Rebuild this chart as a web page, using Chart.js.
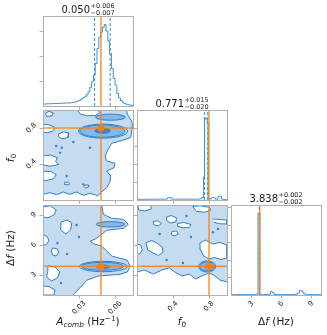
<!DOCTYPE html>
<html>
<head>
<meta charset="utf-8">
<script src="https://cdn.jsdelivr.net/npm/chart.js@4.4.1/dist/chart.umd.min.js"></script>
<style>
  html, body { margin: 0; padding: 0; background: #fff; }
  #wrap { position: relative; width: 327px; height: 335px; }
  #wrap canvas { position: absolute; left: 0; top: 0; }
</style>
</head>
<body>
<div id="wrap">
  <canvas id="hA" width="327" height="335"></canvas>
  <canvas id="hF" width="327" height="335"></canvas>
  <canvas id="hD" width="327" height="335"></canvas>
  <canvas id="cAF" width="327" height="335"></canvas>
  <canvas id="cAD" width="327" height="335"></canvas>
  <canvas id="cFD" width="327" height="335"></canvas>
</div>
<script>
// ---- parameter ranges / ticks
const aRange = [0, 0.075];
const fRange = [0, 1];
const dRange = [1, 10];
const aTicks = [0.03, 0.06];
const fTicks = [0.4, 0.8];
const dTicks = [3, 6, 9];

// ---- summary numbers (titles) and injected values
const medians = [0.050, 0.771, 3.838];
const errUp = [0.006, 0.015, 0.002];
const errDown = [0.007, 0.020, 0.002];
const truths = [0.0483, 0.8, 3.87];

// ---- 1D histograms (bin start, bin width, heights)
const aHistStart = 0, aHistStep = 0.0015;
const aHist = [0.08,0.08,0.09,0.09,0.09,0.10,0.10,0.10,0.10,0.11,
  0.11,0.11,0.12,0.12,0.12,0.13,0.14,0.15,0.17,0.20,
  0.23,0.28,0.33,0.37,0.45,0.57,0.75,0.97,1.24,1.70,
  2.30,2.75,2.95,3.15,3.26,3.00,2.60,2.10,1.50,1.10,
  0.84,0.50,0.33,0.22,0.15,0.10,0.07,0.05,0.04,0.03];
const fHistStart = 0, fHistStep = 0.01;
const fHist = [0.03,0.03,0.04,0.03,0.04,0.04,0.03,0.04,0.04,0.05,
  0.04,0.04,0.05,0.04,0.04,0.05,0.04,0.05,0.05,0.04,
  0.05,0.04,0.05,0.05,0.04,0.05,0.05,0.04,0.05,0.05,
  0.05,0.04,0.05,0.06,0.12,0.14,0.13,0.14,0.06,0.05,
  0.05,0.04,0.05,0.05,0.04,0.05,0.05,0.04,0.05,0.05,
  0.05,0.05,0.04,0.05,0.05,0.04,0.05,0.05,0.04,0.05,
  0.05,0.04,0.05,0.05,0.04,0.05,0.05,0.04,0.05,0.06,
  0.06,0.08,0.15,0.12,1.30,4.50,4.55,4.50,4.30,0.10,
  0.06,0.05,0.07,0.14,0.15,0.13,0.12,0.05,0.05,0.04,
  0.20,0.22,0.20,0.18,0.05,0.04,0.03,0.03,0.03,0.02];
const dHistStart = 1, dHistStep = 0.18;
const dHist = [0.02,0.02,0.02,0.02,0.03,0.02,0.02,0.03,0.02,0.02,
  0.02,0.03,0.02,0.03,0.05,4.70,0.04,0.02,0.02,0.03,
  0.03,0.04,0.20,0.12,0.03,0.02,0.03,0.02,0.02,0.03,
  0.02,0.03,0.02,0.03,0.04,0.03,0.05,0.12,0.25,0.23,
  0.10,0.04,0.03,0.02,0.03,0.02,0.02,0.02,0.02,0.02];
const aHistTicks = [1, 2, 3], fHistTicks = [1, 2, 3, 4], dHistTicks = [1, 2, 3, 4, 5];
const histTop = [3.6, 5, 5.17];

// ---- 2D panels: outer contour path, corners closing it, white holes, islands, ellipses [cx, cy, rx, ry, level]
const afEdge = [[0.0697,1.0],[0.0703,0.952],[0.0739,0.878],[0.0745,0.822],[0.0731,0.693],[0.0642,0.656],
  [0.0572,0.63],[0.0544,0.563],[0.0517,0.489],[0.0531,0.433],[0.06,0.407],[0.0592,0.359],[0.0531,0.322],
  [0.0564,0.267],[0.0558,0.2],[0.0531,0.137],[0.0489,0.089],[0.0453,0.044],[0.0433,0.059],[0.0392,0.074],
  [0.0336,0.052],[0.0281,0.089],[0.0225,0.063],[0.0169,0.089],[0.0114,0.059],[0.0058,0.081],[0,0.063]];
const afCorners = [[0, 1]];
const afHoles = [
  [[0.002,0.965],[0.005,0.985],[0.0085,0.968],[0.0075,0.935],[0.003,0.928],[0.002,0.965]],
  [[0.029,0.995],[0.031,0.955],[0.037,0.935],[0.044,0.94],[0.047,0.97],[0.046,0.995]],
  [[0,0.84],[0.005,0.836],[0.0095,0.81],[0.009,0.772],[0.004,0.748],[0,0.752]],
  [[0.013,0.735],[0.017,0.757],[0.0215,0.745],[0.021,0.695],[0.016,0.68],[0.0128,0.705],[0.013,0.735]],
  [[0,0.49],[0.006,0.5],[0.012,0.47],[0.0105,0.43],[0.013,0.395],[0.006,0.375],[0,0.39]],
  [[0,0.32],[0.007,0.315],[0.011,0.28],[0.0085,0.235],[0.0025,0.215],[0,0.225]],
  [[0.018,0.195],[0.021,0.2],[0.0225,0.18],[0.02,0.167],[0.0175,0.178],[0.018,0.195]],
  [[0.035,0.165],[0.0375,0.168],[0.038,0.145],[0.0355,0.133],[0.034,0.15],[0.035,0.165]]
];
const afDots = [[0.0253,0.644],[0.0156,0.581],[0.0142,0.526],[0.0392,0.581],[0.0197,0.267],[0.0336,0.174],[0.011,0.6]];
const afEllipses = [[0.0500,0.765,0.0205,0.078,0],[0.0495,0.765,0.0188,0.068,1],[0.0496,0.769,0.0063,0.027,2],
  [0.0562,0.92,0.0125,0.034,1]];

const adEdge = [[0.0489,10],[0.0503,9.07],[0.0572,8.67],[0.0669,8.57],[0.0711,8.07],[0.0669,7.67],[0.0531,7.47],
  [0.0489,7.07],[0.0433,6.57],[0.0392,6.4],[0.0419,6.13],[0.0489,5.9],[0.0531,5.4],[0.0572,4.9],[0.0703,4.47],
  [0.0725,3.9],[0.0703,3.3],[0.0642,3.07],[0.0461,2.9],[0.0364,2.47],[0.0322,1.9],[0.0281,1.4],[0.0253,1.0]];
const adCorners = [[0, 1], [0, 10]];
const adHoles = [
  [[0,9.8],[0.006,9.92],[0.011,9.5],[0.009,9.0],[0.004,8.72],[0,8.8]],
  [[0.015,8.3],[0.02,8.5],[0.024,8.2],[0.023,7.5],[0.019,7.1],[0.0148,7.5],[0.015,8.3]],
  [[0.008,5.7],[0.012,5.62],[0.013,5.2],[0.011,4.9],[0.008,5.0],[0.007,5.4],[0.008,5.7]],
  [[0.004,3.9],[0.01,3.8],[0.014,3.3],[0.012,2.7],[0.007,2.4],[0.003,2.8],[0.004,3.4],[0.004,3.9]],
  [[0,1.9],[0.005,1.85],[0.01,1.5],[0.009,1.0],[0,1.0]],
  [[0,7.0],[0.0035,6.85],[0.005,6.4],[0.002,6.0],[0,6.05]]
];
const adDots = [[0.028,8.0],[0.012,6.2],[0.02,5.1],[0.03,6.8],[0.015,2.2]];
const adEllipses = [[0.0503,3.85,0.0200,0.52,0],[0.0496,3.87,0.0174,0.40,1],[0.0500,3.83,0.0056,0.17,2],
  [0.0563,8.07,0.0120,0.27,1]];

const fdEdge = [[0,3.3],[0.08,3.5],[0.18,3.1],[0.29,3.55],[0.36,3.7],[0.42,3.3],[0.5,2.9],[0.58,3.1],
  [0.65,2.6],[0.72,2.9],[0.8,3.2],[0.86,2.95],[0.92,2.5],[1.0,2.3]];
const fdCorners = [[1, 10], [0, 10]];
const fdHoles = [
  [[0.01,10],[0.02,9.5],[0.09,9.4],[0.16,9.6],[0.15,10]],
  [[0.62,9.85],[0.7,9.92],[0.8,9.78],[0.82,9.5],[0.75,9.28],[0.66,9.36],[0.62,9.85]],
  [[0.33,8.8],[0.38,8.95],[0.44,8.7],[0.43,8.3],[0.37,8.2],[0.33,8.45],[0.33,8.8]],
  [[0.18,8.35],[0.23,8.42],[0.27,8.15],[0.24,7.92],[0.19,8.0],[0.18,8.35]],
  [[0.45,8.15],[0.52,8.25],[0.6,8.05],[0.58,7.75],[0.5,7.72],[0.45,7.9],[0.45,8.15]],
  [[0.84,8.6],[0.92,8.55],[1.0,8.5],[1.0,8.1],[0.92,8.12],[0.85,8.3]],
  [[0.39,7.35],[0.44,7.4],[0.46,7.1],[0.42,6.9],[0.38,7.05],[0.39,7.35]],
  [[0.1,6.2],[0.16,6.45],[0.22,6.2],[0.28,5.8],[0.29,5.3],[0.24,4.95],[0.18,5.2],[0.12,5.5],[0.1,6.2]],
  [[0.7,6.2],[0.76,6.5],[0.84,6.1],[0.92,6.25],[1.0,6.0],[1.0,4.7],[0.93,4.55],[0.86,4.75],[0.8,4.6],[0.74,4.9],[0.71,5.5],[0.7,6.2]],
  [[0,6.1],[0.04,6.0],[0.06,5.5],[0.03,5.1],[0,5.15]]
];
const fdDots = [[0.511,4.2],[0.252,7.1],[0.844,7.27],[0.55,8.9],[0.6,6.8],[0.33,4.5],[0.9,7.6]];
const fdEllipses = [[0.78,3.85,0.095,0.55,0],[0.78,3.85,0.083,0.45,1],[0.80,3.82,0.04,0.24,2]];

// ---- look
const C = {
  light: '#c4dbf0', mid: '#86b6e2', dark: '#3a87cf', line: '#2f80cc',
  hist: '#3b8fd7', orange: '#ff7f0e', orangeLine: 'rgba(255,127,14,0.85)',
  frame: '#b0b0b0', text: '#1a1a1a'
};
const FONT = '"DejaVu Sans", sans-serif';
const TICK_SIZE = 7, LABEL_SIZE = 10.5, TITLE_SIZE = 10, SCRIPT_SIZE = 6.5;
const W = 327, H = 335;
const cols = [[43, 133], [137, 227], [231, 321]];
const rows = [[16, 106], [110, 200], [205, 295]];

Chart.defaults.font.family = FONT;

function setFont(ctx, size, italic) { ctx.font = (italic ? 'italic ' : '') + size + 'px ' + FONT; }

function drawRich(ctx, parts, size, x, y) {
  let w = 0;
  const items = parts.map(p => {
    const s = p.s ? size * 0.7 : size;
    setFont(ctx, s, p.it);
    const dy = p.s === 'sub' ? size * 0.22 : p.s === 'sup' ? -size * 0.38 : 0;
    const it = { t: p.t, size: s, it: p.it, dx: w, dy };
    w += ctx.measureText(p.t).width;
    return it;
  });
  ctx.textAlign = 'left'; ctx.textBaseline = 'alphabetic';
  items.forEach(it => { setFont(ctx, it.size, it.it); ctx.fillText(it.t, x - w / 2 + it.dx, y + it.dy); });
}

function rotLabel(ctx, text, cx, cy) {
  ctx.save(); ctx.translate(cx, cy); ctx.rotate(-Math.PI / 4);
  ctx.textAlign = 'center'; ctx.textBaseline = 'middle';
  ctx.fillText(text, 0, 0); ctx.restore();
}

const cornerPlugin = {
  id: 'corner',
  beforeDatasetsDraw(chart, args, o) {
    if (!o.fill) return;
    const { ctx, chartArea: a, scales: { x, y } } = chart;
    const P = p => [x.getPixelForValue(p[0]), y.getPixelForValue(p[1])];
    const poly = (pts, color) => {
      ctx.beginPath();
      pts.forEach((p, i) => { const [px, py] = P(p); i ? ctx.lineTo(px, py) : ctx.moveTo(px, py); });
      ctx.closePath(); ctx.fillStyle = color; ctx.fill();
    };
    ctx.save();
    ctx.beginPath(); ctx.rect(a.left, a.top, a.width, a.height); ctx.clip();
    poly(o.fill.edge.concat(o.fill.corners), C.light);
    o.fill.holes.forEach(h => poly(h, '#ffffff'));
    o.fill.ellipses.forEach(([cx, cy, rx, ry, lev]) => {
      const [px, py] = P([cx, cy]);
      const ew = Math.abs(x.getPixelForValue(cx + rx) - px), eh = Math.abs(y.getPixelForValue(cy + ry) - py);
      ctx.beginPath(); ctx.ellipse(px, py, ew, eh, 0, 0, 2 * Math.PI);
      if (lev > 0) { ctx.fillStyle = lev === 1 ? C.mid : C.dark; ctx.fill(); }
      ctx.strokeStyle = C.line; ctx.lineWidth = 1; ctx.stroke();
    });
    ctx.restore();
  },
  afterDraw(chart, args, o) {
    const { ctx, chartArea: a, scales: { x, y } } = chart;
    ctx.save();
    ctx.strokeStyle = C.frame; ctx.lineWidth = 1;
    ctx.strokeRect(a.left + 0.5, a.top + 0.5, a.width, a.height);
    ctx.fillStyle = C.text;
    setFont(ctx, TICK_SIZE, false);
    const side = t => (ctx.measureText(t).width + TICK_SIZE * 0.9) * Math.SQRT1_2;
    if (o.xFmt) x.ticks.forEach(tk => {
      const t = o.xFmt(tk.value), d = side(t);
      rotLabel(ctx, t, x.getPixelForValue(tk.value), a.bottom + 5 + d / 2);
    });
    if (o.yFmt) y.ticks.forEach(tk => {
      const t = o.yFmt(tk.value), d = side(t);
      rotLabel(ctx, t, a.left - 5.5 - d / 2, y.getPixelForValue(tk.value));
    });
    if (o.xTitle) drawRich(ctx, o.xTitle, LABEL_SIZE, (a.left + a.right) / 2, 325);
    if (o.yTitle) {
      ctx.save(); ctx.translate(14, (a.top + a.bottom) / 2 + (o.yShift || 0)); ctx.rotate(-Math.PI / 2);
      drawRich(ctx, o.yTitle, LABEL_SIZE, 0, 0); ctx.restore();
    }
    if (o.title) {
      const [m, up, dn] = o.title;
      setFont(ctx, TITLE_SIZE, false); const wm = ctx.measureText(m).width;
      setFont(ctx, SCRIPT_SIZE, false); const ws = Math.max(ctx.measureText(up).width, ctx.measureText(dn).width);
      const x0 = (a.left + a.right) / 2 - (wm + 0.5 + ws) / 2, base = a.top - 3;
      ctx.textAlign = 'left'; ctx.textBaseline = 'alphabetic';
      setFont(ctx, TITLE_SIZE, false); ctx.fillText(m, x0, base);
      setFont(ctx, SCRIPT_SIZE, false);
      ctx.fillText(up, x0 + wm + 0.5, base - 5.2);
      ctx.fillText(dn, x0 + wm + 0.5, base + 2.3);
    }
    ctx.restore();
  }
};

function axisOpts(range, ticks, axis) {
  return {
    type: 'linear', min: range[0], max: range[1], position: axis === 'x' ? 'bottom' : 'left',
    afterFit: s => { if (axis === 'x') s.height = 0; else s.width = 0; },
    afterBuildTicks: s => { s.ticks = ticks.map(v => ({ value: v })); },
    ticks: { display: false },
    grid: { drawOnChartArea: false, drawTicks: true, tickLength: 3.5, color: C.frame, lineWidth: 1 },
    border: { display: true, color: C.frame, width: 1 }
  };
}

function makePanel(id, col, row, xr, xt, yr, yt, datasets, deco) {
  const [x0, x1] = cols[col], [y0, y1] = rows[row];
  return new Chart(document.getElementById(id), {
    type: 'scatter',
    data: { datasets },
    options: {
      responsive: false, animation: false, devicePixelRatio: 1,
      layout: { padding: { left: x0, top: y0, right: W - x1, bottom: H - y1 } },
      plugins: { legend: { display: false }, tooltip: { enabled: false }, corner: deco },
      scales: { x: axisOpts(xr, xt, 'x'), y: axisOpts(yr, yt, 'y') }
    },
    plugins: [cornerPlugin]
  });
}

function histPoints(start, step, vals) {
  const pts = [{ x: start, y: 0 }];
  vals.forEach((v, i) => pts.push({ x: start + i * step, y: v }));
  pts.push({ x: start + vals.length * step, y: 0 });
  return pts;
}

function histSets(start, step, vals, k, top) {
  const vline = (v, color, dash, w, order) => ({
    data: [{ x: v, y: 0 }, { x: v, y: top }], showLine: true, borderColor: color,
    borderDash: dash, borderWidth: w, pointRadius: 0, order
  });
  return [
    vline(truths[k], C.orangeLine, [], 1.5, 0),
    vline(medians[k] - errDown[k], C.hist, [3, 2], 1, 1),
    vline(medians[k] + errUp[k], C.hist, [3, 2], 1, 1),
    { data: histPoints(start, step, vals), showLine: true, stepped: 'before', borderColor: C.hist,
      borderWidth: 1, pointRadius: 0, order: 2 }
  ];
}

function contourSets(edge, holes, dots, kx, ky, xr, yr) {
  const outline = pts => ({ data: pts.map(([x, y]) => ({ x, y })), showLine: true, borderColor: C.line,
    borderWidth: 1, pointRadius: 0, order: 5 });
  return [
    { data: [{ x: truths[kx], y: truths[ky] }], pointRadius: 3.5, backgroundColor: C.orange, borderWidth: 0, order: 0 },
    { data: [{ x: truths[kx], y: yr[0] }, { x: truths[kx], y: yr[1] }], showLine: true, borderColor: C.orangeLine,
      borderWidth: 1.5, pointRadius: 0, order: 1 },
    { data: [{ x: xr[0], y: truths[ky] }, { x: xr[1], y: truths[ky] }], showLine: true, borderColor: C.orangeLine,
      borderWidth: 1.5, pointRadius: 0, order: 1 },
    outline(edge),
    ...holes.map(outline),
    { data: dots.map(([x, y]) => ({ x, y })), pointRadius: 1.2, backgroundColor: C.line, borderWidth: 0, order: 5 }
  ];
}

const titleOf = k => [medians[k].toFixed(3), '+' + errUp[k].toFixed(3), '\u2212' + errDown[k].toFixed(3)];
const fmt2 = v => v.toFixed(2), fmt1 = v => v.toFixed(1), fmt0 = v => v.toFixed(0);
const labA = [{ t: 'A', it: 1 }, { t: 'comb', it: 1, s: 'sub' }, { t: ' (Hz' }, { t: '\u22121', s: 'sup' }, { t: ')' }];
const labF = [{ t: 'f', it: 1 }, { t: '0', s: 'sub' }];
const labD = [{ t: '\u0394' }, { t: 'f', it: 1 }, { t: ' (Hz)' }];

// diagonal histograms
makePanel('hA', 0, 0, aRange, aTicks, [0, histTop[0]], aHistTicks,
  histSets(aHistStart, aHistStep, aHist, 0, histTop[0]), { title: titleOf(0) });
makePanel('hF', 1, 1, fRange, fTicks, [0, histTop[1]], fHistTicks,
  histSets(fHistStart, fHistStep, fHist, 1, histTop[1]), { title: titleOf(1) });
makePanel('hD', 2, 2, dRange, dTicks, [0, histTop[2]], dHistTicks,
  histSets(dHistStart, dHistStep, dHist, 2, histTop[2]), { title: titleOf(2), xFmt: fmt0, xTitle: labD });

// 2D contour panels
makePanel('cAF', 0, 1, aRange, aTicks, fRange, fTicks,
  contourSets(afEdge, afHoles, afDots, 0, 1, aRange, fRange),
  { fill: { edge: afEdge, corners: afCorners, holes: afHoles, ellipses: afEllipses }, yFmt: fmt1, yTitle: labF, yShift: 3 });
makePanel('cAD', 0, 2, aRange, aTicks, dRange, dTicks,
  contourSets(adEdge, adHoles, adDots, 0, 2, aRange, dRange),
  { fill: { edge: adEdge, corners: adCorners, holes: adHoles, ellipses: adEllipses }, yFmt: fmt0, yTitle: labD,
    xFmt: fmt2, xTitle: labA, yShift: -2 });
makePanel('cFD', 1, 2, fRange, fTicks, dRange, dTicks,
  contourSets(fdEdge, fdHoles, fdDots, 1, 2, fRange, dRange),
  { fill: { edge: fdEdge, corners: fdCorners, holes: fdHoles, ellipses: fdEllipses }, xFmt: fmt1, xTitle: labF });
</script>
</body>
</html>
